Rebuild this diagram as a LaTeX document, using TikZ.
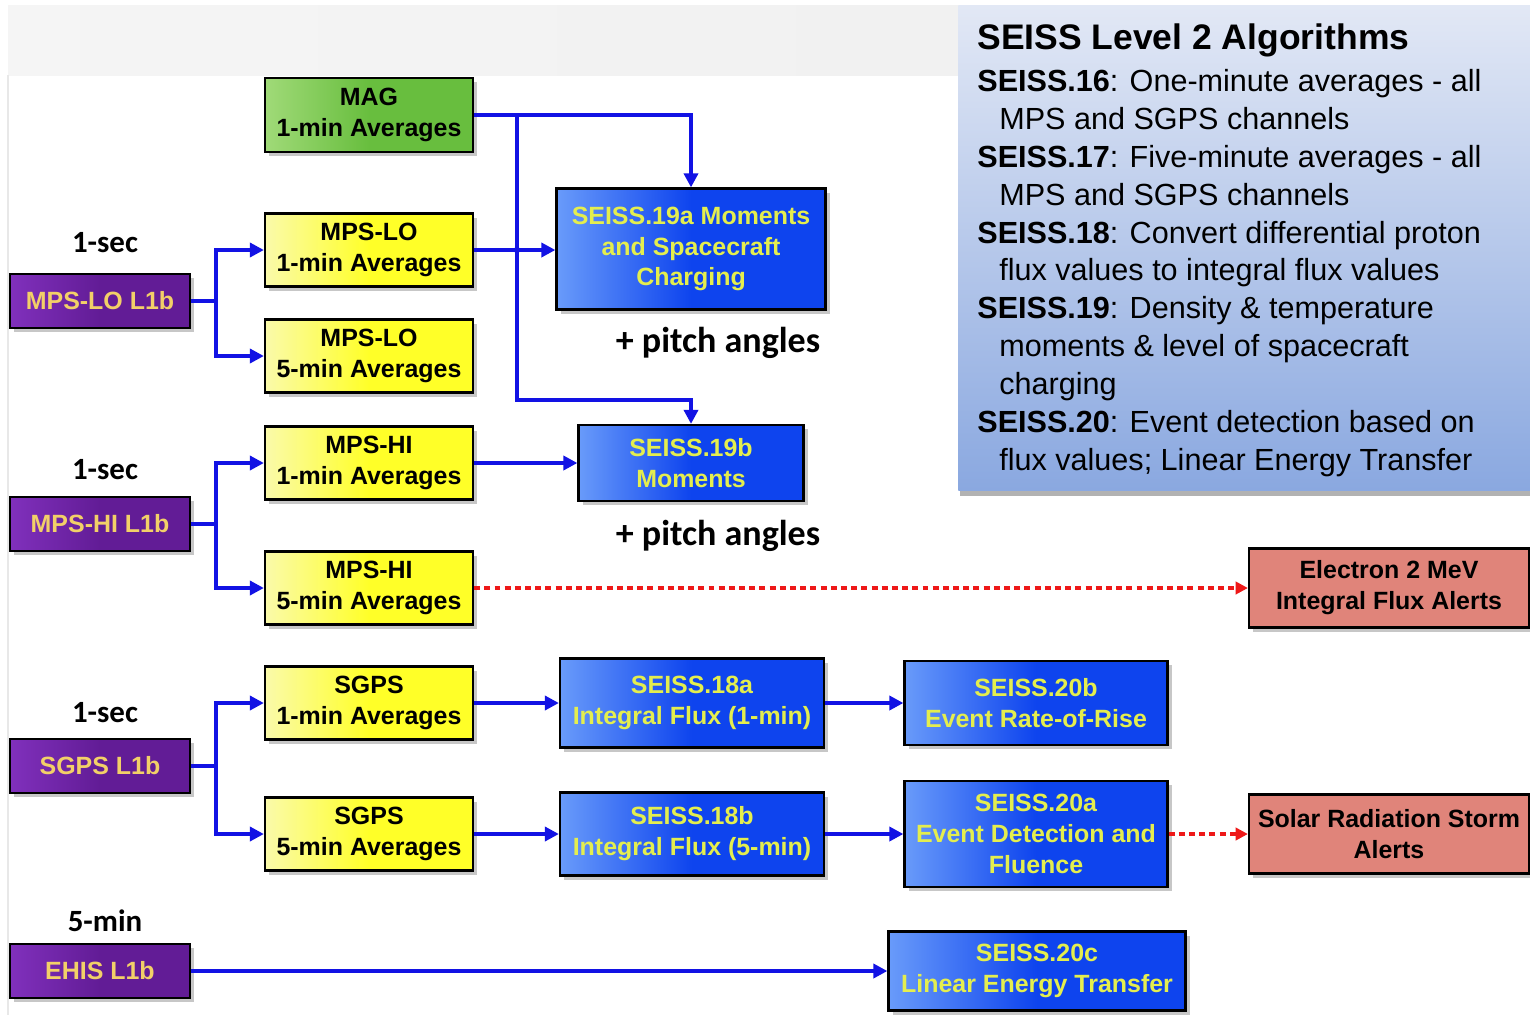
\documentclass[tikz,border=0pt]{standalone}
\usepackage{fontspec}
\setmainfont{Liberation Sans}
\newfontfamily\labelfont{Carlito}
\usepackage{tikz}
\usetikzlibrary{arrows.meta, shadows, positioning}

\definecolor{flowblue}{RGB}{18,18,228}
\definecolor{alertline}{RGB}{238,24,24}
\definecolor{boxblue}{RGB}{14,68,238}
\definecolor{boxblueL}{RGB}{105,155,250}
\definecolor{boxtext}{RGB}{228,238,78}
\definecolor{purp}{RGB}{98,28,150}
\definecolor{purpL}{RGB}{128,48,188}
\definecolor{goldtext}{RGB}{242,208,104}
\definecolor{avgyellow}{RGB}{255,255,40}
\definecolor{avgyellowL}{RGB}{250,250,170}
\definecolor{maggreen}{RGB}{104,190,62}
\definecolor{maggreenL}{RGB}{160,218,120}
\definecolor{alertred}{RGB}{224,132,122}
\definecolor{legendtop}{RGB}{226,232,245}
\definecolor{legendbot}{RGB}{138,168,224}

\begin{document}
\begin{tikzpicture}[
        x=0.02cm, y=-0.02cm,
        every node/.style={font=\fontsize{14.2}{17.6}\selectfont\bfseries, align=center, inner sep=2pt},
        box/.style={draw=black, line width=1.3pt,
            drop shadow={shadow xshift=2.5pt, shadow yshift=-2.5pt, fill=black, opacity=0.22}},
        avg/.style={box, left color=avgyellowL, right color=avgyellow, middle color=avgyellow,
            minimum width=4.16cm, minimum height=1.46cm},
        magbox/.style={box, left color=maggreenL, right color=maggreen, middle color=maggreen,
            minimum width=4.16cm, minimum height=1.48cm},
        l1b/.style={box, left color=purpL, right color=purp, middle color=purp, text=goldtext,
            minimum width=3.6cm, minimum height=1.08cm},
        algo/.style={box, left color=boxblueL, right color=boxblue, middle color=boxblue, text=boxtext},
        alertbox/.style={box, fill=alertred, minimum width=5.6cm, minimum height=1.58cm},
        cadence/.style={font=\labelfont\bfseries\fontsize{17.6}{20}\selectfont},
        pitch/.style={font=\labelfont\bfseries\fontsize{20.5}{24}\selectfont},
        flow/.style={draw=flowblue, line width=2.2pt, -{Triangle[length=8pt, width=8pt]}},
        alert/.style={draw=alertline, line width=1.9pt, dash pattern=on 3.4pt off 2.4pt,
            -{Triangle[length=7pt, width=7pt]}}
    ]

    % page and title band
    \useasboundingbox (0,0) rectangle (1530,1015);
    \fill[white] (0,0) rectangle (1530,1015);
    \shade[left color=gray!8, right color=gray!13] (8,5) rectangle (1530,75);
    \draw[gray!18, line width=0.8pt] (8,75) -- (8,1015);

    % algorithm summary
    \node[minimum width=11.44cm, minimum height=9.7cm, top color=legendtop, bottom color=legendbot,
        drop shadow={shadow xshift=1pt, shadow yshift=-3pt, fill=black, opacity=0.3},
        anchor=north west, inner sep=0pt] (legend) at (958,5) {};
    \node[anchor=north west, align=left, inner sep=0pt,
        font=\fontsize{17.4}{21.6}\selectfont] (legendtext) at (977,23) {%
        {\fontsize{20.2}{24}\selectfont\bfseries SEISS Level 2 Algorithms}\\[2.4pt]
        \textbf{SEISS.16}: One-minute averages - all\\
        \hspace*{0.44cm}MPS and SGPS channels\\
        \textbf{SEISS.17}: Five-minute averages - all\\
        \hspace*{0.44cm}MPS and SGPS channels\\
        \textbf{SEISS.18}: Convert differential proton\\
        \hspace*{0.44cm}flux values to integral flux values\\
        \textbf{SEISS.19}: Density \& temperature\\
        \hspace*{0.44cm}moments \& level of spacecraft\\
        \hspace*{0.44cm}charging\\
        \textbf{SEISS.20}: Event detection based on\\
        \hspace*{0.44cm}flux values; Linear Energy Transfer};

    % L1b inputs
    \node[l1b] (lol1b) at (100,301) {MPS-LO L1b};
    \node[l1b] (hil1b) at (100,524) {MPS-HI L1b};
    \node[l1b] (sgl1b) at (100,766) {SGPS L1b};
    \node[l1b] (ehis) at (100,971) {EHIS L1b};

    \node[cadence] at (105,243) {1-sec};
    \node[cadence] at (105,470) {1-sec};
    \node[cadence] at (105,713) {1-sec};
    \node[cadence] at (105,921) {5-min};

    % averages
    \node[magbox] (mag) at (369,115) {MAG\\1-min Averages};
    \node[avg] (lo1) at (369,250) {MPS-LO\\1-min Averages};
    \node[avg] (lo5) at (369,356) {MPS-LO\\5-min Averages};
    \node[avg] (hi1) at (369,463) {MPS-HI\\1-min Averages};
    \node[avg] (hi5) at (369,588) {MPS-HI\\5-min Averages};
    \node[avg] (sg1) at (369,703) {SGPS\\1-min Averages};
    \node[avg] (sg5) at (369,834) {SGPS\\5-min Averages};

    % level 2 algorithms
    \node[algo, minimum width=5.38cm, minimum height=2.42cm] (m19a) at (691,249)
        {SEISS.19a Moments\\and Spacecraft\\Charging};
    \node[algo, minimum width=4.5cm, minimum height=1.52cm] (m19b) at (691,463)
        {SEISS.19b\\Moments};
    \node[algo, minimum width=5.28cm, minimum height=1.78cm] (m18a) at (692,703)
        {SEISS.18a\\Integral Flux (1-min)};
    \node[algo, minimum width=5.28cm, minimum height=1.66cm] (m18b) at (692,834)
        {SEISS.18b\\Integral Flux (5-min)};
    \node[algo, minimum width=5.26cm, minimum height=1.68cm] (m20b) at (1036,703)
        {SEISS.20b\\Event Rate-of-Rise};
    \node[algo, minimum width=5.26cm, minimum height=2.12cm] (m20a) at (1036,834)
        {SEISS.20a\\Event Detection and\\Fluence};
    \node[algo, minimum width=5.94cm, minimum height=1.58cm] (m20c) at (1037,971)
        {SEISS.20c\\Linear Energy Transfer};

    \node[pitch] at (718,343) {+ pitch angles};
    \node[pitch] at (718,536) {+ pitch angles};

    % alerts
    \node[alertbox] (elec) at (1389,588) {Electron 2 MeV\\Integral Flux Alerts};
    \node[alertbox] (storm) at (1389,834) {Solar Radiation Storm\\Alerts};

    % fan-out of the L1b products
    \draw[flow] (lol1b.east) -- ++(25,0) |- (lo1.west);
    \draw[flow] (lol1b.east) -- ++(25,0) |- (lo5.west);
    \draw[flow] (hil1b.east) -- ++(25,0) |- (hi1.west);
    \draw[flow] (hil1b.east) -- ++(25,0) |- (hi5.west);
    \draw[flow] (sgl1b.east) -- ++(25,0) |- (sg1.west);
    \draw[flow] (sgl1b.east) -- ++(25,0) |- (sg5.west);
    \draw[flow] (ehis.east) -- (ehis.east -| m20c.west);

    % MAG feeds both moment calculations
    \coordinate (tap) at (517,115);
    \draw[flow] (mag.east) -| (m19a.north);
    \draw[flow] (tap) -- (tap |- 0,400) -| (m19b.north);
    \fill[flowblue] (tap |- lo1.east) circle[radius=1.8pt];

    \draw[flow] (lo1.east) -- (lo1.east -| m19a.west);
    \draw[flow] (hi1.east) -- (m19b.west);
    \draw[flow] (sg1.east) -- (m18a.west);
    \draw[flow] (m18a) -- (m20b);
    \draw[flow] (sg5.east) -- (m18b.west);
    \draw[flow] (m18b) -- (m20a);

    % alert products
    \draw[alert] (hi5.east) -- (elec.west);
    \draw[alert] (m20a.east) -- (storm.west);

\end{tikzpicture}
\end{document}
